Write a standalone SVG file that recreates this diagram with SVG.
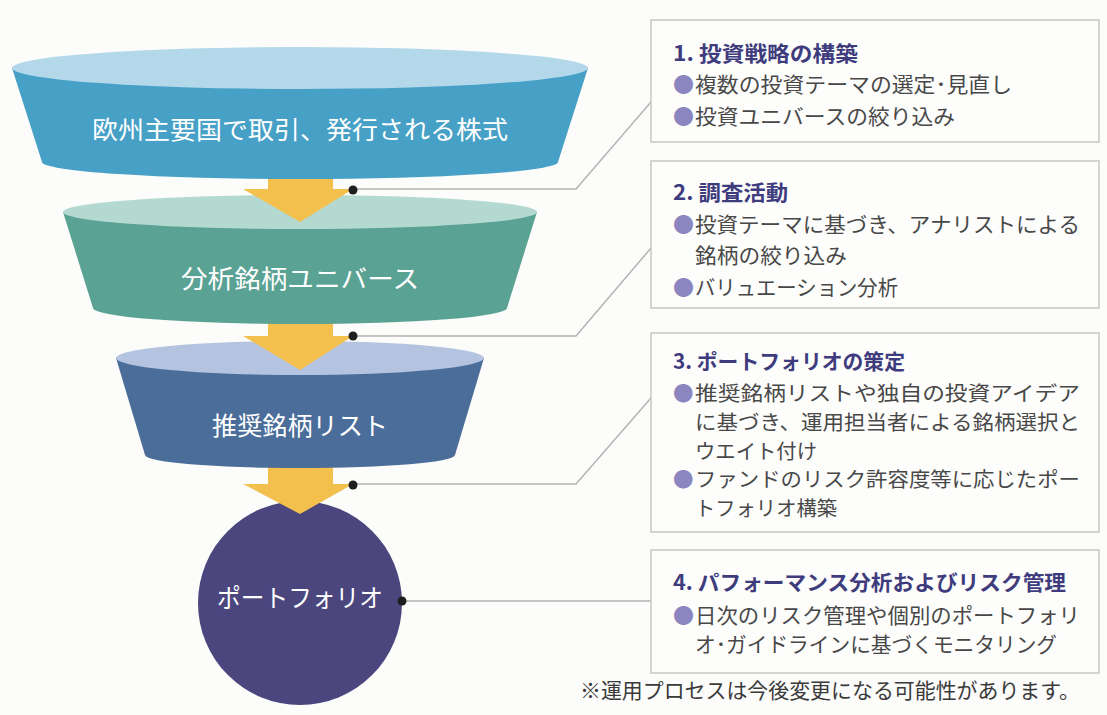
<svg xmlns="http://www.w3.org/2000/svg" width="1107" height="715" viewBox="0 0 1107 715">
<style>
.jp{font-family:"Noto Sans CJK JP","Noto Sans CJK SC",sans-serif}
.ft{font-size:25px;fill:#ffffff;text-anchor:middle}
.box{fill:#fdfdfb;stroke:#c6c6c6;stroke-width:1.5}
.ttl{font-size:21px;font-weight:bold;fill:#3f3c7e}
.txt{font-size:21px;fill:#484848}
.t3{font-size:20.5px;fill:#484848}
.bul{fill:#8b86bf}
.con{fill:none;stroke:#b3b3b3;stroke-width:1.5}
.dot{fill:#1e1e1e}
.arr{fill:#f3c04e}
</style>
<rect x="0" y="0" width="1107" height="715" fill="#fcfcfa"/>

<g id="portfolio">
<circle cx="300" cy="603" r="102" fill="#4b477e"/>
</g>
<g id="arrow3"><path class="arr" d="M268,460 H333 V484 H353 L300,514 L243,484 H268 Z"/></g>
<g id="funnel3">
<path d="M116,358 L145,455 A155,13 0 0 0 455,455 L484,358 Z" fill="#4b6d99"/>
<ellipse cx="300" cy="358" rx="184" ry="17" fill="#b4c3df"/>
</g>
<g id="arrow2"><path class="arr" d="M268,312 H333 V336 H353 L300,370 L243,336 H268 Z"/></g>
<g id="funnel2">
<path d="M63,212 L93,308 A207,16 0 0 0 507,308 L537,212 Z" fill="#5aa294"/>
<ellipse cx="300" cy="212" rx="237" ry="17" fill="#b4d9d1"/>
</g>
<g id="arrow1"><path class="arr" d="M268,165 H333 V189 H353 L300,222 L243,189 H268 Z"/></g>
<g id="funnel1">
<path d="M12,68 L42,162 A258,17 0 0 0 558,162 L588,68 Z" fill="#47a0c6"/>
<ellipse cx="300" cy="68" rx="288" ry="21" fill="#b2d8ea"/>
</g>
<g id="labels" class="jp">
<text class="ft" x="300" y="139" textLength="416" lengthAdjust="spacingAndGlyphs">欧州主要国で取引、発行される株式</text>
<text class="ft" x="300" y="288" textLength="238" lengthAdjust="spacingAndGlyphs">分析銘柄ユニバース</text>
<text class="ft" x="300" y="435" textLength="176" lengthAdjust="spacingAndGlyphs">推奨銘柄リスト</text>
<text class="ft" x="300" y="607" textLength="166" lengthAdjust="spacingAndGlyphs">ポートフォリオ</text>
</g>

<g id="connectors">
<polyline class="con" points="353,189 576,189 651,102"/>
<polyline class="con" points="353,336 576,336 651,248"/>
<polyline class="con" points="353,484 576,484 651,398"/>
<polyline class="con" points="402,601 651,601"/>
<circle class="dot" cx="353" cy="190" r="4.5"/>
<circle class="dot" cx="353" cy="336" r="4.5"/>
<circle class="dot" cx="353" cy="485" r="4.5"/>
<circle class="dot" cx="402" cy="601" r="4.5"/>
</g>

<g id="step1" class="jp">
<rect class="box" x="651" y="20" width="448" height="122"/>
<text class="ttl" x="673" y="61" textLength="185" lengthAdjust="spacingAndGlyphs">1. 投資戦略の構築</text>
<text class="txt bul" x="673" y="92">●</text>
<text class="txt" x="695" y="92" textLength="317" lengthAdjust="spacingAndGlyphs">複数の投資テーマの選定･見直し</text>
<text class="txt bul" x="673" y="124">●</text>
<text class="txt" x="695" y="124" textLength="260" lengthAdjust="spacingAndGlyphs">投資ユニバースの絞り込み</text>
</g>

<g id="step2" class="jp">
<rect class="box" x="651" y="161" width="448" height="147"/>
<text class="ttl" x="673" y="200" textLength="115" lengthAdjust="spacingAndGlyphs">2. 調査活動</text>
<text class="txt bul" x="673" y="232">●</text>
<text class="txt" x="695" y="232" textLength="385" lengthAdjust="spacingAndGlyphs">投資テーマに基づき、アナリストによる</text>
<text class="txt" x="695" y="263" textLength="152" lengthAdjust="spacingAndGlyphs">銘柄の絞り込み</text>
<text class="txt bul" x="673" y="295">●</text>
<text class="txt" x="695" y="295" textLength="203" lengthAdjust="spacingAndGlyphs">バリュエーション分析</text>
</g>

<g id="step3" class="jp">
<rect class="box" x="651" y="333" width="448" height="199"/>
<text class="ttl" x="673" y="369" textLength="232" lengthAdjust="spacingAndGlyphs">3. ポートフォリオの策定</text>
<text class="t3 bul" x="673" y="401">●</text>
<text class="t3" x="695" y="401" textLength="385" lengthAdjust="spacingAndGlyphs">推奨銘柄リストや独自の投資アイデア</text>
<text class="t3" x="695" y="430" textLength="385" lengthAdjust="spacingAndGlyphs">に基づき、運用担当者による銘柄選択と</text>
<text class="t3" x="695" y="459" textLength="122" lengthAdjust="spacingAndGlyphs">ウエイト付け</text>
<text class="t3 bul" x="673" y="487">●</text>
<text class="t3" x="695" y="487" textLength="385" lengthAdjust="spacingAndGlyphs">ファンドのリスク許容度等に応じたポー</text>
<text class="t3" x="695" y="516" textLength="142" lengthAdjust="spacingAndGlyphs">トフォリオ構築</text>
</g>

<g id="step4" class="jp">
<rect class="box" x="651" y="550" width="448" height="123"/>
<text class="ttl" x="673" y="590" textLength="393" lengthAdjust="spacingAndGlyphs">4. パフォーマンス分析およびリスク管理</text>
<text class="txt bul" x="673" y="623">●</text>
<text class="txt" x="695" y="623" textLength="385" lengthAdjust="spacingAndGlyphs">日次のリスク管理や個別のポートフォリ</text>
<text class="txt" x="695" y="652" textLength="362" lengthAdjust="spacingAndGlyphs">オ･ガイドラインに基づくモニタリング</text>
</g>

<g id="note" class="jp">
<text class="txt" x="580" y="698" textLength="500" lengthAdjust="spacingAndGlyphs" style="fill:#3a3a3a">※運用プロセスは今後変更になる可能性があります。</text>
</g>
</svg>
